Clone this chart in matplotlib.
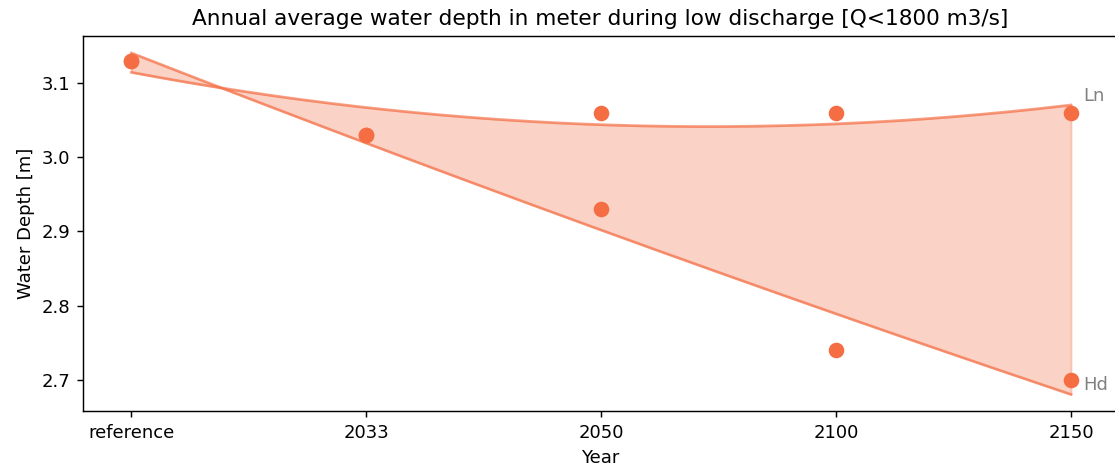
import numpy as np
import matplotlib
matplotlib.use('Agg')
import matplotlib.pyplot as plt

# categories on the x axis
years = ['reference', '2033', '2050', '2100', '2150']

# water depth per scenario [m]
depth_ln = [3.13, 3.03, 3.06, 3.06, 3.06]
depth_hd = [3.13, 3.03, 2.93, 2.74, 2.70]

color = '#f46d43'

fig = plt.figure(figsize=(1115 / 130, 470 / 130), dpi=130)
ax = fig.add_axes([0.0747, 0.1245, 0.928, 0.799])

x = np.arange(len(years))
xs = np.linspace(x[0], x[-1], 200)

# 2nd order trend lines through both scenarios
fit_ln = np.polyval(np.polyfit(x, depth_ln, 2), xs)
fit_hd = np.polyval(np.polyfit(x, depth_hd, 2), xs)

ax.fill_between(xs, fit_ln, fit_hd, color=color, alpha=0.3)
ax.plot(xs, fit_ln, color=color, alpha=0.65)
ax.plot(xs, fit_hd, color=color, alpha=0.65)

ax.scatter(x, depth_ln, color=color, s=58, zorder=3)
ax.scatter(x, depth_hd, color=color, s=58, zorder=3)

ax.text(x[-1] + 0.05, fit_ln[-1], 'Ln', color='grey', va='bottom')
ax.text(x[-1] + 0.05, fit_hd[-1], 'Hd', color='grey', va='bottom')

ax.set_xticks(x)
ax.set_xticklabels(years)
ax.set_xlim(-0.205, 4.2)
ax.set_xlabel('Year')
ax.set_ylabel('Water Depth [m]')
ax.set_title('Annual average water depth in meter during low discharge [Q<1800 m3/s]')

fig.savefig('out.png', dpi=130)
